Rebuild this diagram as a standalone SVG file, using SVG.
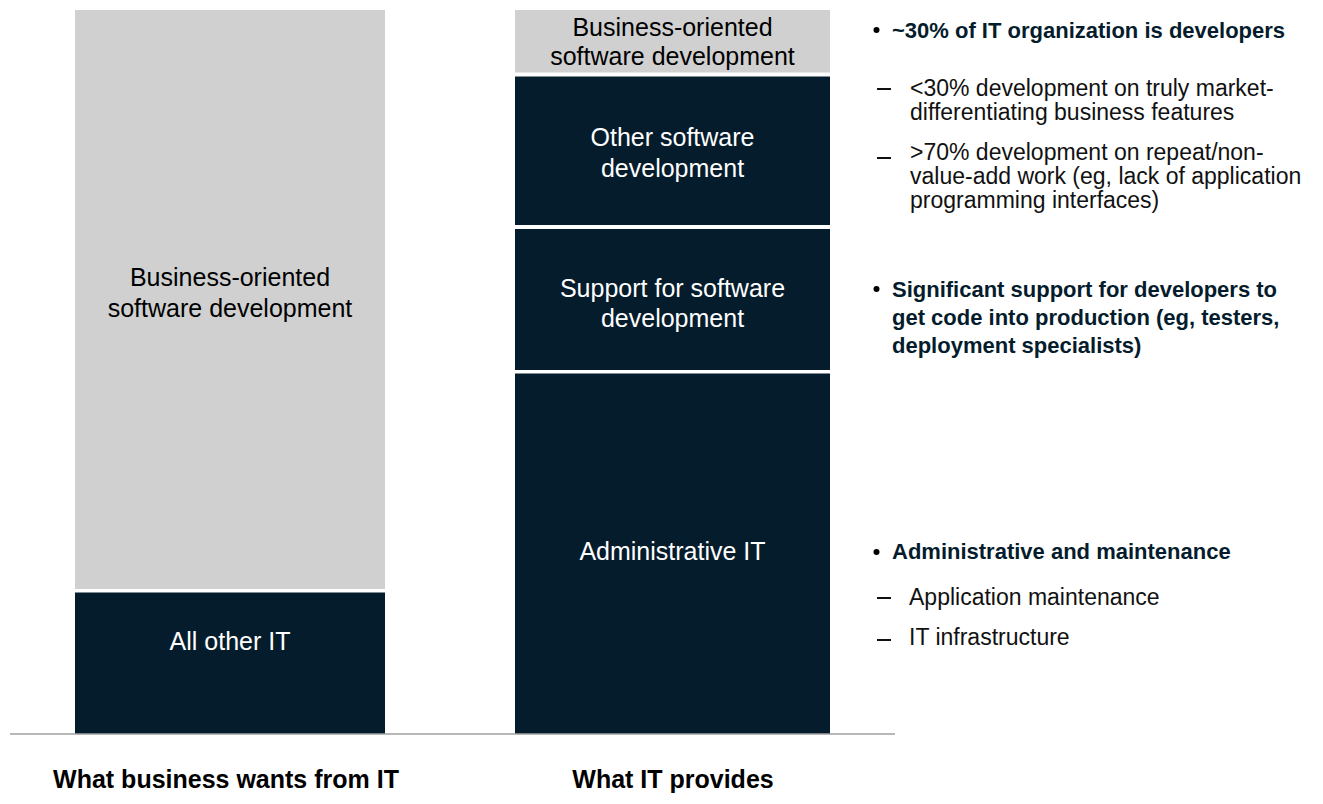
<svg xmlns="http://www.w3.org/2000/svg" width="1323" height="804" viewBox="0 0 1323 804">
<style>
.lt{fill:#d0d0d0}
.dk{fill:#051c2c}
text{font-family:"Liberation Sans",Arial,sans-serif;font-size:23px}
.c{text-anchor:middle;font-size:25px}
.bk{fill:#000}
.wh{fill:#fff}
.b{font-weight:bold;fill:#051c2c;font-size:22px}
.r{fill:#111}
.t{font-weight:bold;fill:#000;font-size:25px;text-anchor:middle}
.d{stroke:#111;stroke-width:2}
.dot{fill:#000}
</style>
<rect width="1323" height="804" fill="#fff"/>
<g id="left-bar">
<g id="l-business">
<rect class="lt" x="75" y="10" width="310" height="579"/>
<text class="c bk" x="230" y="286">Business-oriented</text>
<text class="c bk" x="230" y="317">software development</text>
</g>
<g id="l-other">
<rect class="dk" x="75" y="592.5" width="310" height="141.5"/>
<text class="c wh" x="230" y="650">All other IT</text>
</g>
</g>
<g id="right-bar">
<g id="r-business">
<rect class="lt" x="515" y="10" width="315" height="62.5"/>
<text class="c bk" x="672.5" y="36">Business-oriented</text>
<text class="c bk" x="672.5" y="65">software development</text>
</g>
<g id="r-other">
<rect class="dk" x="515" y="76.5" width="315" height="148.5"/>
<text class="c wh" x="672.5" y="146">Other software</text>
<text class="c wh" x="672.5" y="177">development</text>
</g>
<g id="r-support">
<rect class="dk" x="515" y="229" width="315" height="141"/>
<text class="c wh" x="672.5" y="297">Support for software</text>
<text class="c wh" x="672.5" y="327">development</text>
</g>
<g id="r-admin">
<rect class="dk" x="515" y="373.5" width="315" height="360.5"/>
<text class="c wh" x="672.5" y="560">Administrative IT</text>
</g>
</g>
<g id="connectors">
<line x1="10" y1="734" x2="895" y2="734" stroke="#a0a0a0" stroke-width="1.5"/>
</g>
<g id="notes">
<circle class="dot" cx="876.5" cy="30" r="3"/>
<text class="b" x="892" y="38">~30% of IT organization is developers</text>
<line class="d" x1="877" y1="89" x2="891" y2="89"/>
<text class="r" x="910" y="96">&lt;30% development on truly market-</text>
<text class="r" x="910" y="120">differentiating business features</text>
<line class="d" x1="877" y1="158" x2="891" y2="158"/>
<text class="r" x="910" y="160">&gt;70% development on repeat/non-</text>
<text class="r" x="910" y="184">value-add work (eg, lack of application</text>
<text class="r" x="910" y="208">programming interfaces)</text>
<circle class="dot" cx="876.5" cy="289" r="3"/>
<text class="b" x="892" y="297">Significant support for developers to</text>
<text class="b" x="892" y="325">get code into production (eg, testers,</text>
<text class="b" x="892" y="353">deployment specialists)</text>
<circle class="dot" cx="876.5" cy="552" r="3"/>
<text class="b" x="892" y="559">Administrative and maintenance</text>
<line class="d" x1="877" y1="598" x2="891" y2="598"/>
<text class="r" x="909" y="605">Application maintenance</text>
<line class="d" x1="877" y1="640" x2="891" y2="640"/>
<text class="r" x="909" y="645">IT infrastructure</text>
</g>
<g id="titles">
<text class="t" x="226" y="788">What business wants from IT</text>
<text class="t" x="673" y="788">What IT provides</text>
</g>
</svg>
